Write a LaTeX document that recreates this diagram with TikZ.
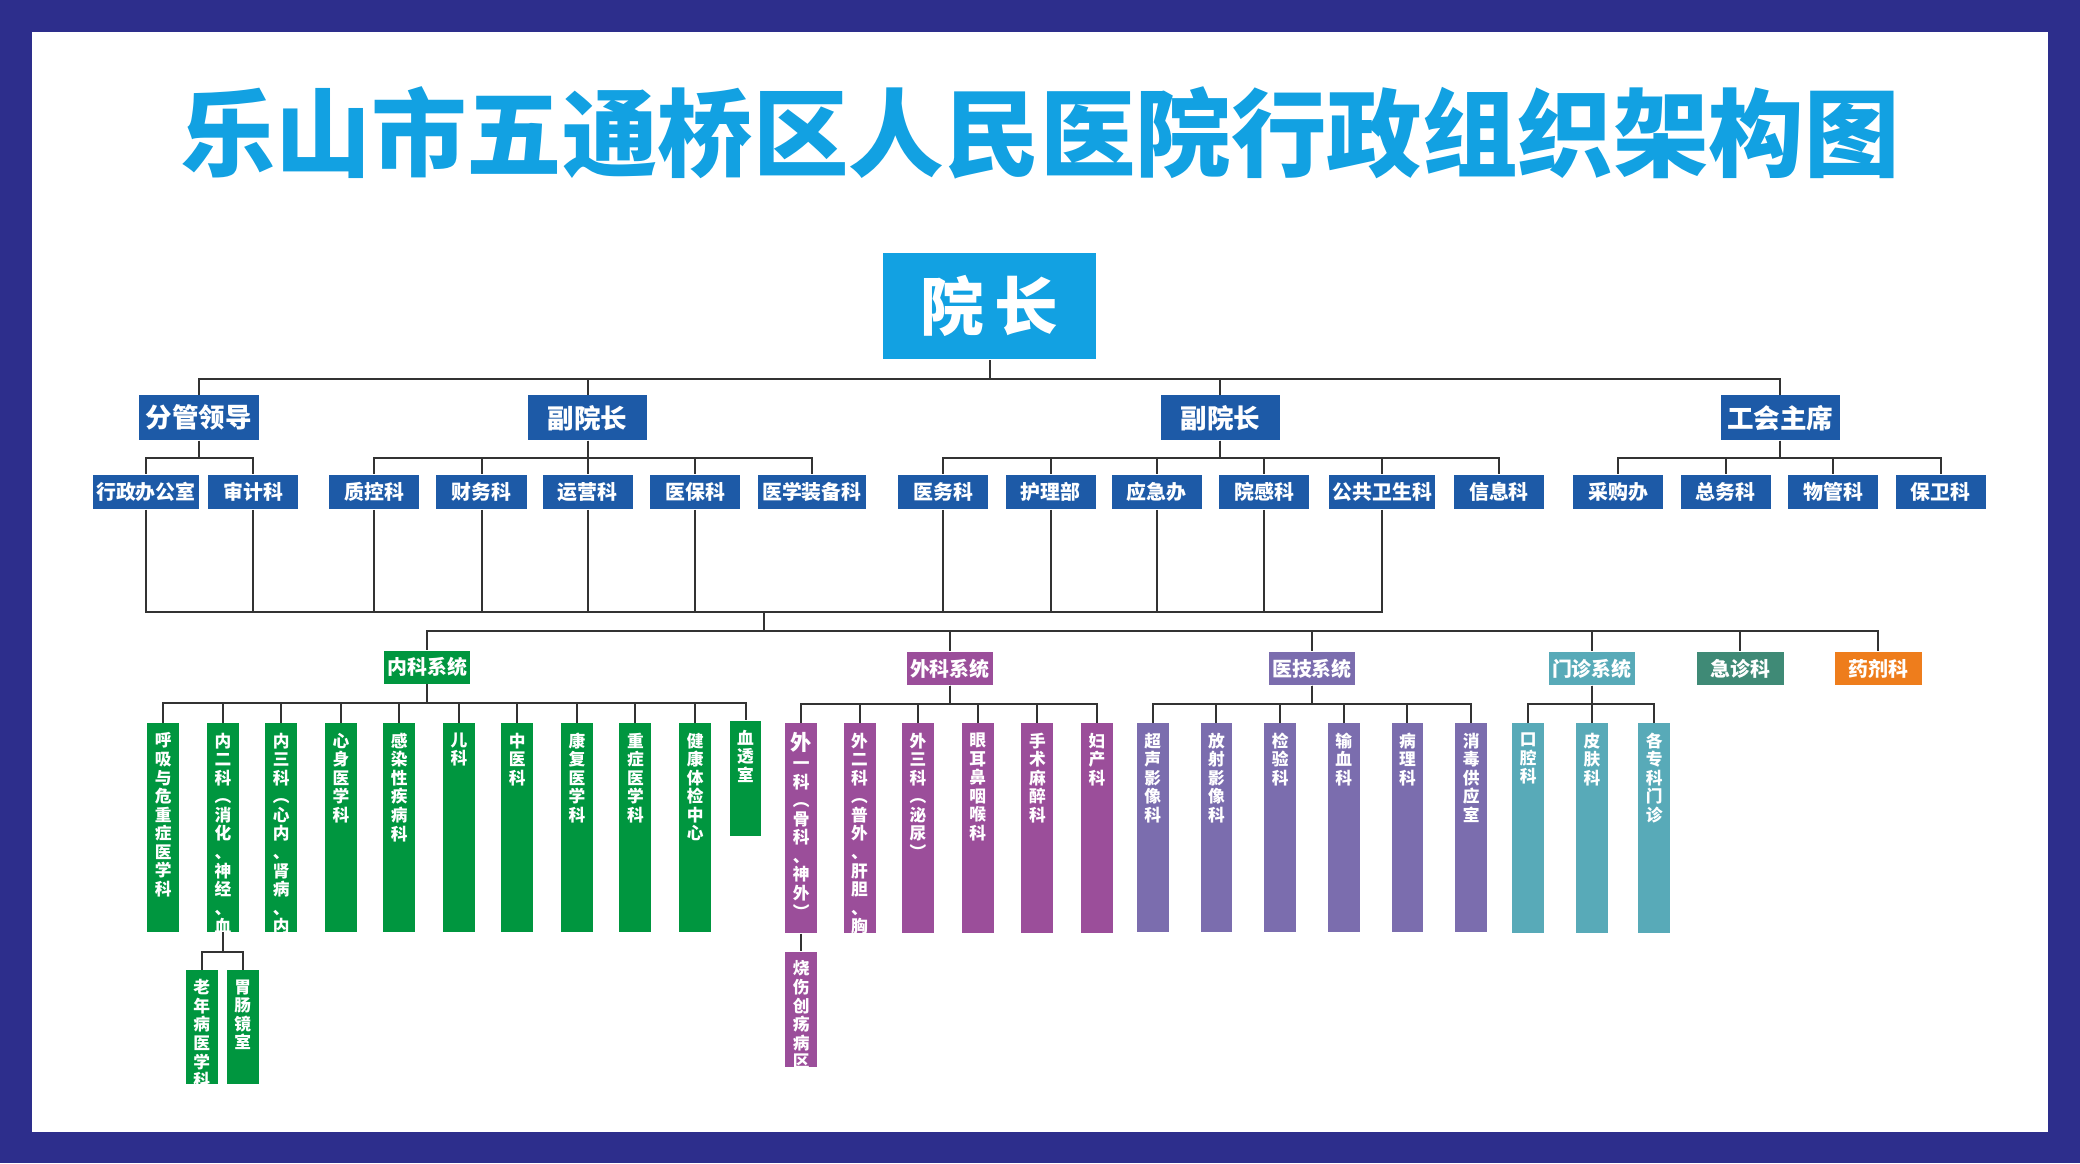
\documentclass[tikz,border=0pt]{standalone}
\usepackage{fontspec}
\setmainfont{Noto Sans CJK SC}
\definecolor{frame}{HTML}{2D2E8C}
\definecolor{ttl}{HTML}{12A1E2}
\definecolor{dblue}{HTML}{1D5AA7}
\definecolor{gr}{HTML}{00963F}
\definecolor{pu}{HTML}{9B4E9A}
\definecolor{vi}{HTML}{7B6DAE}
\definecolor{te}{HTML}{58AAB8}
\definecolor{eg}{HTML}{3F8A76}
\definecolor{org}{HTML}{EE7D1C}
\definecolor{ln}{HTML}{333333}
\newcommand\mkcol[7]{%
  \node[fill=#6, minimum width=#5*0.5pt, minimum height=(#4-#3)*0.5pt, anchor=north, inner sep=0] (#1) at (#2,#3) {};
  \node[anchor=north, text=white, align=center, inner sep=0, font=\bfseries\fontsize{6.3}{7}\selectfont] at (#2,#3+7) {#7};}
\begin{document}
\begin{tikzpicture}[x=0.5pt,y=-0.5pt,
  l2/.style={fill=dblue,text=white,font=\bfseries\fontsize{10}{12}\selectfont,minimum width=45pt,minimum height=17pt,inner sep=0},
  l3/.style={fill=dblue,text=white,font=\bfseries\fontsize{7.5}{9}\selectfont,minimum width=34pt,minimum height=13pt,inner sep=0},
  sys/.style={text=white,font=\bfseries\fontsize{7.5}{9}\selectfont,minimum width=32.5pt,minimum height=12.5pt,inner sep=0},
  con/.style={draw=ln,line width=0.75pt}]
\fill[frame] (0,0) rectangle (1568,877);
\fill[white] (24,24) rectangle (1544,853);
\node[text=ttl,font=\bfseries\fontsize{36}{40}\selectfont] (title) at (784,100) {乐山市五通桥区人民医院行政组织架构图};
\node[fill=ttl,text=white,minimum width=80pt,minimum height=40pt,inner sep=0,font=\bfseries\fontsize{24}{28}\selectfont] (yz) at (746,231) {院\,长};
% level 2
\node[l2] (fg) at (150,315) {分管领导};
\node[l2] (f1) at (443,315) {副院长};
\node[l2] (f2) at (920,315) {副院长};
\node[l2] (gh) at (1342,315) {工会主席};
\foreach \n in {fg,f1,f2,gh} \draw[con] (yz.south) -- ++(0,14) -| (\n.north);
% level 3
\node[l3,minimum width=40pt] (a1) at (110,371) {行政办公室};
\node[l3] (a2) at (191,371) {审计科};
\node[l3] (b1) at (282,371) {质控科};
\node[l3] (b2) at (363,371) {财务科};
\node[l3] (b3) at (443,371) {运营科};
\node[l3] (b4) at (524,371) {医保科};
\node[l3,minimum width=40.5pt] (b5) at (612,371) {医学装备科};
\node[l3] (c1) at (711,371) {医务科};
\node[l3] (c2) at (792,371) {护理部};
\node[l3] (c3) at (872,371) {应急办};
\node[l3] (c4) at (953,371) {院感科};
\node[l3,minimum width=40pt] (c5) at (1042,371) {公共卫生科};
\node[l3] (c6) at (1130,371) {信息科};
\node[l3] (d1) at (1220,371) {采购办};
\node[l3] (d2) at (1301,371) {总务科};
\node[l3] (d3) at (1382,371) {物管科};
\node[l3] (d4) at (1463,371) {保卫科};
\foreach \n in {a1,a2} \draw[con] (fg.south) -- ++(0,13) -| (\n.north);
\foreach \n in {b1,b2,b3,b4,b5} \draw[con] (f1.south) -- ++(0,13) -| (\n.north);
\foreach \n in {c1,c2,c3,c4,c5,c6} \draw[con] (f2.south) -- ++(0,13) -| (\n.north);
\foreach \n in {d1,d2,d3,d4} \draw[con] (gh.south) -- ++(0,13) -| (\n.north);
\coordinate (hub) at (576,461);
\coordinate (hub2) at (576,476);
\foreach \n in {a1,a2,b1,b2,b3,b4,c1,c2,c3,c4,c5} \draw[con] (\n.south) |- (hub);
\draw[con] (hub) -- (hub2);
% systems
\node[sys,fill=gr] (nk) at (322,503) {内科系统};
\node[sys,fill=pu] (wk) at (716,504) {外科系统};
\node[sys,fill=vi] (yj) at (989,504) {医技系统};
\node[sys,fill=te] (mz) at (1200,504) {门诊系统};
\node[sys,fill=eg] (jz) at (1312,504) {急诊科};
\node[sys,fill=org] (yjk) at (1416,504) {药剂科};
\foreach \n in {nk,wk,yj,mz,jz,yjk} \draw[con] (hub2) -| (\n.north);
% 内科
\mkcol{n1}{123}{545}{702}{24}{gr}{呼\\吸\\与\\危\\重\\症\\医\\学\\科}
\mkcol{n2}{168}{545}{702}{24}{gr}{内\\二\\科\\︵\\消\\化\\、\\神\\经\\、\\血\\液\\︶}
\mkcol{n3}{212}{545}{702}{24}{gr}{内\\三\\科\\︵\\心\\内\\、\\肾\\病\\、\\内\\分\\泌\\︶}
\mkcol{n4}{257}{545}{702}{24}{gr}{心\\身\\医\\学\\科}
\mkcol{n5}{301}{545}{702}{24}{gr}{感\\染\\性\\疾\\病\\科}
\mkcol{n6}{346}{545}{702}{24}{gr}{儿\\科}
\mkcol{n7}{390}{545}{702}{24}{gr}{中\\医\\科}
\mkcol{n8}{435}{545}{702}{24}{gr}{康\\复\\医\\学\\科}
\mkcol{n9}{479}{545}{702}{24}{gr}{重\\症\\医\\学\\科}
\mkcol{n10}{524}{545}{702}{24}{gr}{健\\康\\体\\检\\中\\心}
\mkcol{n11}{562}{543}{630}{24}{gr}{血\\透\\室}
\foreach \n in {n1,n2,n3,n4,n5,n6,n7,n8,n9,n10,n11} \draw[con] (nk.south) -- ++(0,14) -| (\n.north);
\mkcol{n21}{152}{731}{817}{24}{gr}{老\\年\\病\\医\\学\\科}
\mkcol{n22}{183}{731}{817}{24}{gr}{胃\\肠\\镜\\室}
\foreach \n in {n21,n22} \draw[con] (n2.south) -- ++(0,15) -| (\n.north);
% 外科
\mkcol{w1}{604}{545}{703}{24}{pu}{\fontsize{8}{9.5}\selectfont 外\\一\\科\\︵\\骨\\科\\、\\神\\外\\︶}
\mkcol{w2}{648}{545}{703}{24}{pu}{外\\二\\科\\︵\\普\\外\\、\\肝\\胆\\、\\胸\\外\\、\\肛\\肠\\︶}
\mkcol{w3}{692}{545}{703}{24}{pu}{外\\三\\科\\︵\\泌\\尿\\︶}
\mkcol{w4}{737}{545}{703}{24}{pu}{眼\\耳\\鼻\\咽\\喉\\科}
\mkcol{w5}{782}{545}{703}{24}{pu}{手\\术\\麻\\醉\\科}
\mkcol{w6}{827}{545}{703}{24}{pu}{妇\\产\\科}
\foreach \n in {w1,w2,w3,w4,w5,w6} \draw[con] (wk.south) -- ++(0,14) -| (\n.north);
\mkcol{w11}{604}{717}{804}{24}{pu}{烧\\伤\\创\\疡\\病\\区}
\draw[con] (w1.south) -- (w11.north);
% 医技
\mkcol{y1}{869}{545}{702}{24}{vi}{超\\声\\影\\像\\科}
\mkcol{y2}{917}{545}{702}{24}{vi}{放\\射\\影\\像\\科}
\mkcol{y3}{965}{545}{702}{24}{vi}{检\\验\\科}
\mkcol{y4}{1013}{545}{702}{24}{vi}{输\\血\\科}
\mkcol{y5}{1061}{545}{702}{24}{vi}{病\\理\\科}
\mkcol{y6}{1109}{545}{702}{24}{vi}{消\\毒\\供\\应\\室}
\foreach \n in {y1,y2,y3,y4,y5,y6} \draw[con] (yj.south) -- ++(0,14) -| (\n.north);
% 门诊
\mkcol{m1}{1152}{545}{703}{24}{te}{口\\腔\\科}
\mkcol{m2}{1200}{545}{703}{24}{te}{皮\\肤\\科}
\mkcol{m3}{1247}{545}{703}{24}{te}{各\\专\\科\\门\\诊}
\foreach \n in {m1,m2,m3} \draw[con] (mz.south) -- ++(0,14) -| (\n.north);
\end{tikzpicture}
\end{document}
